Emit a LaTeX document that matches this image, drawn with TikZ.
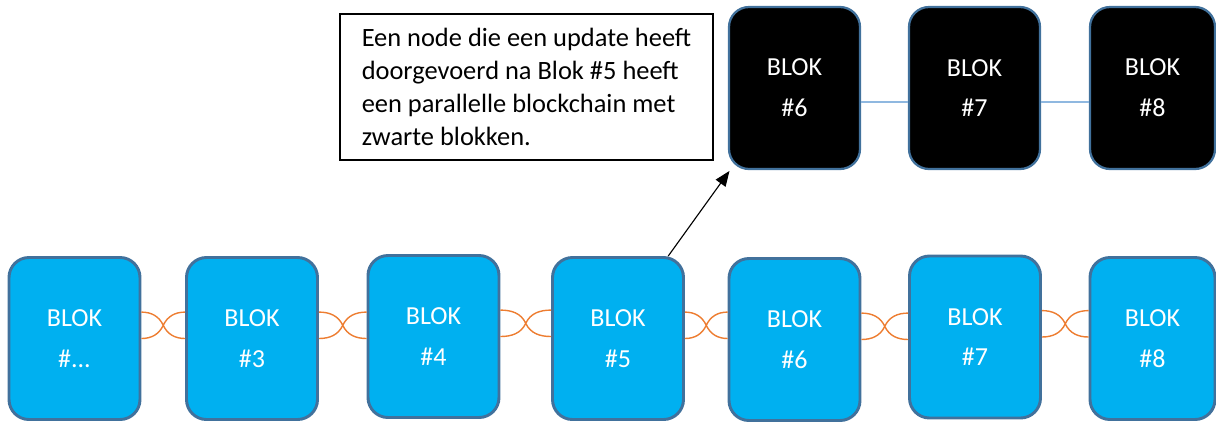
\documentclass[tikz,border=0pt]{standalone}
\usepackage{fontspec}
\setmainfont{Carlito}
\usepackage{tikz}
\usetikzlibrary{calc,arrows.meta}
\definecolor{blokblauw}{HTML}{00B0F0}
\definecolor{randblauw}{HTML}{41719C}
\definecolor{oranje}{HTML}{ED7D31}
\definecolor{lichtblauw}{HTML}{8FB8E0}
\tikzset{
	blok/.style={draw=randblauw, line width=2.1pt, fill=blokblauw, rounded corners=0.5cm, minimum width=3.275cm, minimum height=4.05cm, text=white, align=center, font=\fontsize{18.5}{29}\selectfont},
	zwartblok/.style={blok, fill=black, line width=1.6pt},
	schakel/.style={draw=oranje, line width=1pt},
	lijn/.style={draw=lichtblauw, line width=1pt},
	pijl/.style={draw=black, line width=0.8pt, -{Triangle[length=0.38cm, width=0.3cm]}}
}
\def\koppel(#1)(#2){\draw[schakel] let \p1=(#1.east), \p2=(#2.west), \n1={0.5*\x1+0.5*\x2}, \n2={\y1+0.33cm}, \n3={\y1+0.66cm} in (\x1, \n3) to[out=0, in=115] (\n1, \n2) to[out=245, in=0] (\x1, \y1) (\x2, \n3) to[out=180, in=65] (\n1, \n2) to[out=-65, in=180] (\x2, \y1);}

\begin{document}
\begin{tikzpicture}
			%%%%% START %%%%%
			\useasboundingbox (0, 0) rectangle (30.4, -10.525);
			
			\node[blok] (b1) at (1.8625, -8.4625) {BLOK\\\#...};
			\node[blok] (b3) at (6.3, -8.4625) {BLOK\\\#3};
			\node[blok] (b4) at (10.8375, -8.4125) {BLOK\\\#4};
			\node[blok] (b5) at (15.45, -8.4625) {BLOK\\\#5};
			\node[blok] (b6) at (19.8625, -8.4875) {BLOK\\\#6};
			\node[blok] (b7) at (24.375, -8.425) {BLOK\\\#7};
			\node[blok, minimum width=3.125cm] (b8) at (28.8125, -8.4625) {BLOK\\\#8};
			
			\koppel(b1)(b3)
			\koppel(b3)(b4)
			\koppel(b4)(b5)
			\koppel(b5)(b6)
			\koppel(b6)(b7)
			\koppel(b7)(b8)
			
			\node[zwartblok] (z6) at (19.8625, -2.2) {BLOK\\\#6};
			\node[zwartblok] (z7) at (24.3625, -2.2) {BLOK\\\#7};
			\node[zwartblok, minimum width=3.125cm] (z8) at (28.8125, -2.2) {BLOK\\\#8};
			
			\draw[lijn] ($(z6.east)+(0, -0.35)$) -- ($(z7.west)+(0, -0.35)$);
			\draw[lijn] ($(z7.east)+(0, -0.35)$) -- ($(z8.west)+(0, -0.35)$);
			
			\node[draw=black, line width=0.75pt, fill=white, minimum width=9.325cm, minimum height=3.65cm, align=left, font=\fontsize{18.8}{23.3}\selectfont] (uitleg) at (13.1625, -2.175) {Een node die een update heeft\\doorgevoerd na Blok \#5 heeft\\een parallelle blockchain met\\zwarte blokken.};
			
			\coordinate (vertrek) at ($(b5.north)!0.75!(b5.north east)$);
			\draw[pijl] (vertrek) -- ($(z6.south west)+(0.04, -0.02)$);
			
			%%%%% END %%%%%
		\end{tikzpicture}
\end{document}
